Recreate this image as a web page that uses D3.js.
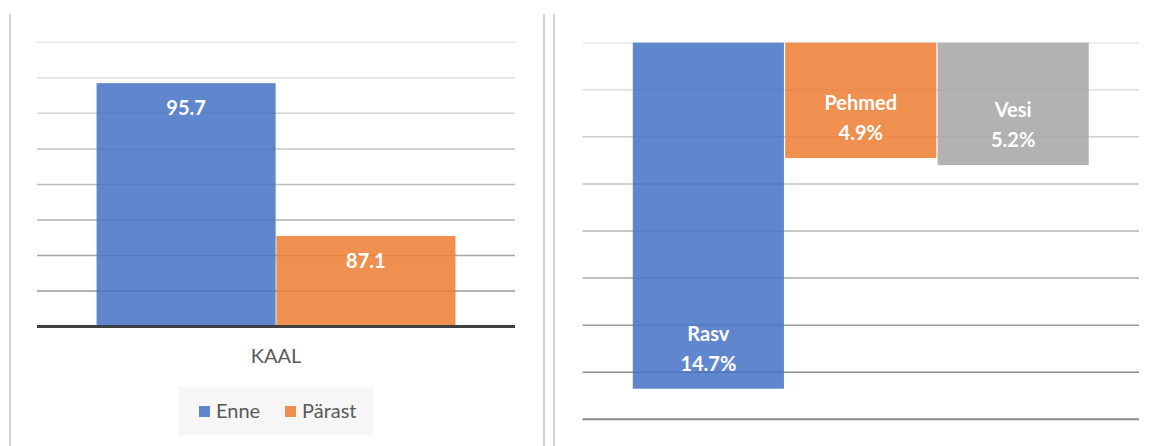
<!DOCTYPE html>
<html lang="et">
<head>
  <meta charset="UTF-8">
  <title>Kaal ja koostis</title>
  <script src="https://d3js.org/d3.v7.min.js"></script>
  <style>
    body { margin: 0; background: #fff; }
    svg { display: block; font-family: Lato, "Open Sans", sans-serif; }
  </style>
</head>
<body>
<div id="chart"></div>
<script>
  // left chart data
  const kaalCategories = ["KAAL"];
  const kaalSeries = ["Enne", "Pärast"];
  const kaalValues = [95.7, 87.1];
  const kaalLabels = ["95.7", "87.1"];
  const kaalDomain = [82, 98];

  // right chart data (bars hang down from zero)
  const partCategories = ["Rasv", "Pehmed", "Vesi"];
  const partValues = [-14.7, -4.9, -5.2];
  const partLabels = ["14.7%", "4.9%", "5.2%"];
  const partDomain = [-16, 0];

  const colors = ["#4472C4", "#ED7D31", "#A5A5A5"];

  const W = 1159, H = 446;
  const svg = d3.select("#chart").append("svg")
    .attr("width", W).attr("height", H);

  // panel separators
  [10, 544, 554].forEach(x => {
    svg.append("line")
      .attr("x1", x).attr("x2", x).attr("y1", 14).attr("y2", H)
      .attr("stroke", "#d2d2d2").attr("stroke-width", 2);
  });

  const gridColor = d3.interpolateRgb("#e8e8e8", "#8e8e8e");

  // ---------- left chart ----------
  const L = { x0: 37, x1: 515, y0: 42.3, y1: 326.5 };

  const yL = d3.scaleLinear().domain(kaalDomain).range([L.y1, L.y0]);
  const x0L = d3.scaleBand().domain(kaalCategories)
    .range([L.x0, L.x1]).paddingInner(0).paddingOuter(0.166);
  const x1L = d3.scaleBand().domain(kaalSeries)
    .range([0, x0L.bandwidth()]).paddingInner(0.004);

  const ticksL = yL.ticks(8).filter(t => t > kaalDomain[0]);
  svg.append("g").selectAll("line").data(ticksL).join("line")
    .attr("x1", L.x0).attr("x2", L.x1)
    .attr("y1", d => yL(d)).attr("y2", d => yL(d))
    .attr("stroke", d => gridColor(1 - (d - kaalDomain[0]) / (kaalDomain[1] - kaalDomain[0])))
    .attr("stroke-width", 1.5);

  const gL = svg.append("g")
    .attr("transform", `translate(${x0L("KAAL")},0)`);

  gL.selectAll("rect").data(kaalValues).join("rect")
    .attr("x", (d, i) => x1L(kaalSeries[i]))
    .attr("width", x1L.bandwidth())
    .attr("y", d => yL(d))
    .attr("height", d => yL(kaalDomain[0]) - yL(d) - 1.5)
    .attr("fill", (d, i) => colors[i])
    .attr("fill-opacity", 0.85);

  gL.selectAll("text").data(kaalValues).join("text")
    .attr("x", (d, i) => x1L(kaalSeries[i]) + x1L.bandwidth() / 2)
    .attr("y", d => yL(d) + 25)
    .attr("dy", "0.35em")
    .attr("text-anchor", "middle")
    .attr("fill", "#fff")
    .style("font-size", "20px").style("font-weight", "bold")
    .text((d, i) => kaalLabels[i]);

  // x axis (thick dark line)
  svg.append("line")
    .attr("x1", L.x0).attr("x2", L.x1)
    .attr("y1", yL(kaalDomain[0])).attr("y2", yL(kaalDomain[0]))
    .attr("stroke", "#404040").attr("stroke-width", 3);

  svg.append("text")
    .attr("x", x0L("KAAL") + x0L.bandwidth() / 2)
    .attr("y", 356).attr("dy", "0.35em")
    .attr("text-anchor", "middle")
    .attr("fill", "#595959")
    .style("font-size", "20px")
    .text(kaalCategories[0]);

  // legend
  const leg = svg.append("g");
  leg.append("rect")
    .attr("x", 178).attr("y", 387).attr("width", 195).attr("height", 48)
    .attr("fill", "#f6f6f6");
  const legX = [199, 285];
  kaalSeries.forEach((s, i) => {
    leg.append("rect")
      .attr("x", legX[i]).attr("y", 406).attr("width", 11).attr("height", 11)
      .attr("fill", colors[i]).attr("fill-opacity", 0.85);
    leg.append("text")
      .attr("x", legX[i] + 17).attr("y", 411).attr("dy", "0.35em")
      .attr("fill", "#595959")
      .style("font-size", "20px")
      .text(s);
  });

  // ---------- right chart ----------
  const R = { x0: 582.5, x1: 1139, y0: 42.7, y1: 419.3 };

  const yR = d3.scaleLinear().domain(partDomain).range([R.y1, R.y0]);
  const xR = d3.scaleBand().domain(partCategories)
    .range([R.x0, R.x1]).paddingInner(0.008).paddingOuter(0.33);

  const ticksR = yR.ticks(8);
  svg.append("g").selectAll("line").data(ticksR).join("line")
    .attr("x1", R.x0).attr("x2", R.x1)
    .attr("y1", d => yR(d)).attr("y2", d => yR(d))
    .attr("stroke", d => d === partDomain[0] ? "#8a8a8a" : gridColor(-d / 14))
    .attr("stroke-width", d => d === partDomain[0] ? 2 : 1.5);

  const gR = svg.append("g");
  gR.selectAll("rect").data(partValues).join("rect")
    .attr("x", (d, i) => xR(partCategories[i]))
    .attr("width", xR.bandwidth())
    .attr("y", yR(0))
    .attr("height", d => yR(d) - yR(0))
    .attr("fill", (d, i) => colors[i])
    .attr("fill-opacity", 0.85);

  const lab = gR.selectAll("text.lab").data(partValues).join("text")
    .attr("class", "lab")
    .attr("text-anchor", "middle")
    .attr("fill", "#fff")
    .style("font-size", "20px").style("font-weight", "bold");
  lab.append("tspan")
    .attr("x", (d, i) => xR(partCategories[i]) + xR.bandwidth() / 2)
    .attr("y", d => yR(d) - 55).attr("dy", "0.35em")
    .text((d, i) => partCategories[i]);
  lab.append("tspan")
    .attr("x", (d, i) => xR(partCategories[i]) + xR.bandwidth() / 2)
    .attr("y", d => yR(d) - 25).attr("dy", "0.35em")
    .text((d, i) => partLabels[i]);
</script>
</body>
</html>
